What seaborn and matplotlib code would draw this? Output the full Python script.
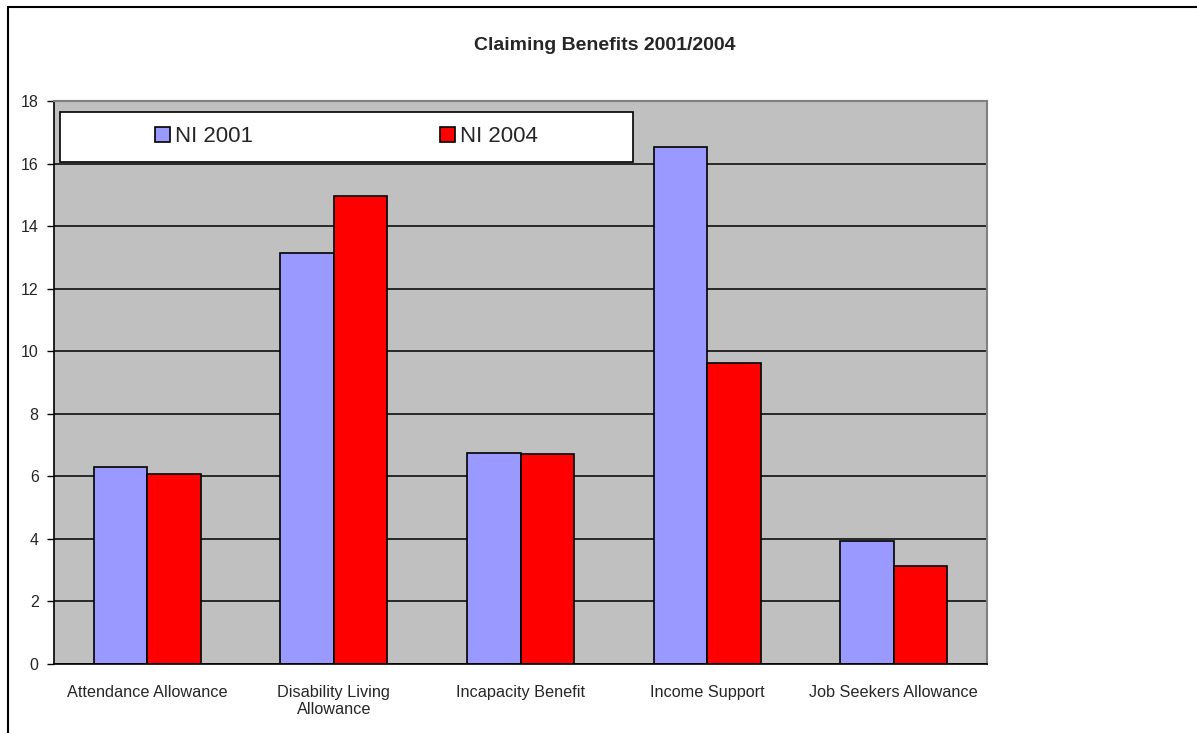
import numpy as np
import pandas as pd
import matplotlib
matplotlib.use('Agg')
import matplotlib.pyplot as plt
from matplotlib.patches import Rectangle
from matplotlib.lines import Line2D
import seaborn as sns

# data
categories = ['Attendance Allowance', 'Disability Living\nAllowance', 'Incapacity Benefit',
              'Income Support', 'Job Seekers Allowance']
ni_2001 = [6.31, 13.14, 6.75, 16.53, 3.93]
ni_2004 = [6.08, 14.96, 6.71, 9.62, 3.13]
series = ['NI 2001', 'NI 2004']
colors = ['#9999FF', '#FF0000']
yticks = np.arange(0, 19, 2)

df = pd.DataFrame({
    'Benefit': categories * 2,
    'Value': ni_2001 + ni_2004,
    'Series': [series[0]] * len(categories) + [series[1]] * len(categories),
})

sns.set_style('white')
plt.rcParams['font.family'] = ['Liberation Sans', 'DejaVu Sans']

W, H = 1197, 733
fig = plt.figure(figsize=(W / 100, H / 100), dpi=100)
ax = fig.add_axes([54 / W, 1 - 664 / H, 933 / W, 563 / H])

sns.barplot(data=df, x='Benefit', y='Value', hue='Series', palette=colors,
            width=0.573, saturation=1, edgecolor='black', linewidth=1.2, ax=ax)

ax.set_facecolor('#C0C0C0')
ax.set_axisbelow(True)
ax.grid(axis='y', color='black', linewidth=1.1)
ax.grid(axis='x', visible=False)
ax.set_xlim(-0.5, len(categories) - 0.5)
ax.set_ylim(0, 18)
ax.set_yticks(yticks)
ax.set_xlabel('')
ax.set_ylabel('')

# labels centred under groups, tick marks on group boundaries
ax.set_xticks(range(len(categories)))
ax.set_xticklabels(categories, fontsize=11.7, linespacing=1.2)
ax.set_xticks(np.arange(-0.5, len(categories), 1), minor=True)
ax.tick_params(axis='x', which='major', length=0, pad=15)
ax.tick_params(axis='x', which='minor', length=6, width=1, color='black', direction='out')
ax.tick_params(axis='y', length=5, width=1, color='black', direction='out',
               labelsize=11.5, pad=6, left=True)

for side in ['top', 'right']:
    ax.spines[side].set_color('#808080')
    ax.spines[side].set_linewidth(1.5)
for side in ['left', 'bottom']:
    ax.spines[side].set_color('black')
    ax.spines[side].set_linewidth(1.2)

# legend box
ax.get_legend().remove()
box_x0 = (60 - 54) / 933
box_x1 = (633 - 54) / 933
box_y0 = (664 - 162) / 563
box_y1 = (664 - 112) / 563
ax.add_patch(Rectangle((box_x0, box_y0), box_x1 - box_x0, box_y1 - box_y0,
                       transform=ax.transAxes, facecolor='white', edgecolor='black',
                       linewidth=1.2, zorder=4, clip_on=False))
handles = [Rectangle((0, 0), 1, 1, facecolor=c, edgecolor='black', linewidth=1.2) for c in colors]
ax.legend(handles, series, loc='center left',
          bbox_to_anchor=((155 - 54) / 933, (box_y0 + box_y1) / 2),
          ncol=2, frameon=False, fontsize=16, handlelength=0.68, handleheight=0.68,
          handletextpad=0.2, columnspacing=8.45, borderpad=0, borderaxespad=0)

fig.text(605 / W, 1 - 46 / H, 'Claiming Benefits 2001/2004', ha='center', va='center',
         fontsize=14, fontweight='bold')

# outer frame lines (left and top only visible)
fig.add_artist(Line2D([7.5 / W, 7.5 / W], [0, 1 - 7 / H], transform=fig.transFigure,
                      color='black', linewidth=1.5))
fig.add_artist(Line2D([7.5 / W, 1], [1 - 7 / H, 1 - 7 / H], transform=fig.transFigure,
                      color='black', linewidth=1.5))

fig.savefig('out.png', dpi=100)
